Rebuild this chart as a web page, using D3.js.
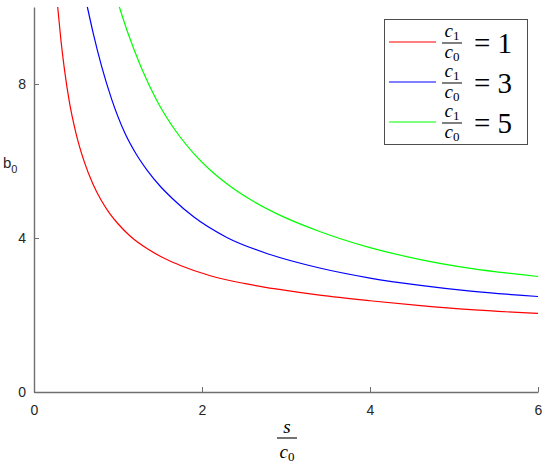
<!DOCTYPE html>
<html>
<head>
<meta charset="utf-8">
<script src="https://cdn.jsdelivr.net/npm/d3@7"></script>
<style>
  body { margin: 0; background: #fff; }
  svg { display: block; }
</style>
</head>
<body>
<div class="plot"></div>
<script>
// values: s/c0 (x) and b0 (y) for each c1/c0 ratio
const ratios = [1, 3, 5];
const colors = ["#ff0000", "#0000ff", "#00ff00"];

const redX = [0.282, 0.32, 0.36, 0.42, 0.5, 0.6, 0.7, 0.8, 0.9, 1.0, 1.15, 1.35, 1.6, 1.75, 2.1, 2.5, 2.9, 3.4, 4.0, 4.6, 5.2, 6.0];
const redY = [10, 9.15, 8.42, 7.55, 6.72, 5.97, 5.41, 4.98, 4.64, 4.37, 4.04, 3.72, 3.42, 3.28, 3.02, 2.82, 2.67, 2.515, 2.37, 2.245, 2.14, 2.04];

const blueX = [0.635, 0.706, 0.806, 0.925, 1.083, 1.2, 1.35, 1.5, 1.65, 1.9, 2.29, 2.81, 3.4, 4.0, 4.6, 5.2, 6.0];
const blueY = [10, 9.31, 8.45, 7.6, 6.72, 6.24, 5.75, 5.35, 5.02, 4.55, 4.02, 3.57, 3.22, 2.96, 2.77, 2.62, 2.48];

const greenX = [1.016, 1.12, 1.28, 1.46, 1.7, 1.9, 2.1, 2.3, 2.6, 2.9, 3.4, 4.0, 4.6, 5.2, 6.0];
const greenY = [10, 9.31, 8.41, 7.58, 6.74, 6.2, 5.76, 5.4, 4.965, 4.62, 4.17, 3.75, 3.44, 3.21, 3.0];

const xTicks = [0, 2, 4, 6];
const yTicks = [0, 4, 8];

const series = [
  {ratio: ratios[0], color: colors[0], pts: redX.map((x, i) => [x, redY[i]])},
  {ratio: ratios[1], color: colors[1], pts: blueX.map((x, i) => [x, blueY[i]])},
  {ratio: ratios[2], color: colors[2], pts: greenX.map((x, i) => [x, greenY[i]])}
];

const width = 550, height = 466;
const svg = d3.select(".plot").append("svg")
    .attr("width", width)
    .attr("height", height);

const x = d3.scaleLinear().domain([0, 6]).range([34, 538]);
const y = d3.scaleLinear().domain([0, 10]).range([392, 7]);

const axisColor = "#6f6f6f";
const textColor = "#262626";
const sans = "'Liberation Sans', Arial, sans-serif";
const serif = "'Liberation Serif', 'Times New Roman', serif";

// curves
const line = d3.line()
    .x(d => x(d[0]))
    .y(d => y(d[1]))
    .curve(d3.curveMonotoneX);

svg.append("g")
  .selectAll("path")
  .data(series)
  .join("path")
    .attr("d", d => line(d.pts))
    .attr("fill", "none")
    .attr("stroke", d => d.color)
    .attr("stroke-width", 1.2);

// axes, ticks point inward
const xAxis = d3.axisBottom(x).tickValues(xTicks).tickFormat(d3.format("d"))
    .tickSizeInner(-5).tickSizeOuter(0).tickPadding(13);
const yAxis = d3.axisLeft(y).tickValues(yTicks).tickFormat(d3.format("d"))
    .tickSizeInner(-5).tickSizeOuter(0).tickPadding(8);

const gx = svg.append("g").attr("transform", "translate(0," + y(0) + ")").call(xAxis);
const gy = svg.append("g").attr("transform", "translate(" + x(0) + ",0)").call(yAxis);

[gx, gy].forEach(g => {
  g.select(".domain").attr("stroke", axisColor).attr("stroke-width", 1.4);
  g.selectAll(".tick line").attr("stroke", axisColor).attr("stroke-width", 1);
  g.selectAll(".tick text")
    .attr("fill", textColor)
    .style("font-family", sans)
    .style("font-size", "14px");
});

// y label b_0
const yl = svg.append("text")
    .attr("x", 3)
    .attr("y", 168)
    .attr("fill", textColor)
    .style("font-family", sans)
    .style("font-size", "15px");
yl.append("tspan").text("b");
yl.append("tspan").attr("dy", 5).style("font-size", "11px").text("0");

// x label s / c_0
const xl = svg.append("g").attr("transform", "translate(287,0)");
xl.append("text")
    .attr("x", 0).attr("y", 433)
    .attr("text-anchor", "middle")
    .attr("fill", "#000")
    .style("font-family", serif)
    .style("font-style", "italic")
    .style("font-size", "19px")
    .text("s");
xl.append("line")
    .attr("x1", -10).attr("x2", 10)
    .attr("y1", 438).attr("y2", 438)
    .attr("stroke", "#000").attr("stroke-width", 1.1);
const den = xl.append("text")
    .attr("x", 0).attr("y", 458)
    .attr("text-anchor", "middle")
    .attr("fill", "#000")
    .style("font-family", serif)
    .style("font-size", "19px");
den.append("tspan").style("font-style", "italic").text("c");
den.append("tspan").attr("dy", 3).style("font-size", "13px").text("0");

// legend
const legend = svg.append("g");
legend.append("rect")
    .attr("x", 384.5).attr("y", 19.5)
    .attr("width", 143).attr("height", 125)
    .attr("fill", "#fff")
    .attr("stroke", "#4d4d4d")
    .attr("stroke-width", 1);

const rows = legend.selectAll("g.row")
  .data(series)
  .join("g")
    .attr("class", "row")
    .attr("transform", (d, i) => "translate(0," + (42 + i * 40) + ")");

rows.append("line")
    .attr("x1", 389).attr("x2", 436)
    .attr("y1", 0).attr("y2", 0)
    .attr("stroke", d => d.color)
    .attr("stroke-width", 1.2);

const num = rows.append("text")
    .attr("x", 452).attr("y", -5)
    .attr("text-anchor", "middle")
    .style("font-family", serif)
    .style("font-size", "19px");
num.append("tspan").style("font-style", "italic").text("c");
num.append("tspan").attr("dy", 3).style("font-size", "13px").text("1");

rows.append("line")
    .attr("x1", 442).attr("x2", 462)
    .attr("y1", 1).attr("y2", 1)
    .attr("stroke", "#000").attr("stroke-width", 1);

const dn = rows.append("text")
    .attr("x", 452).attr("y", 16)
    .attr("text-anchor", "middle")
    .style("font-family", serif)
    .style("font-size", "19px");
dn.append("tspan").style("font-style", "italic").text("c");
dn.append("tspan").attr("dy", 3).style("font-size", "13px").text("0");

rows.append("text")
    .attr("x", 474).attr("y", 11)
    .style("font-family", serif)
    .style("font-size", "29px")
    .attr("fill", "#000")
    .text(d => "= " + d.ratio);
</script>
</body>
</html>
